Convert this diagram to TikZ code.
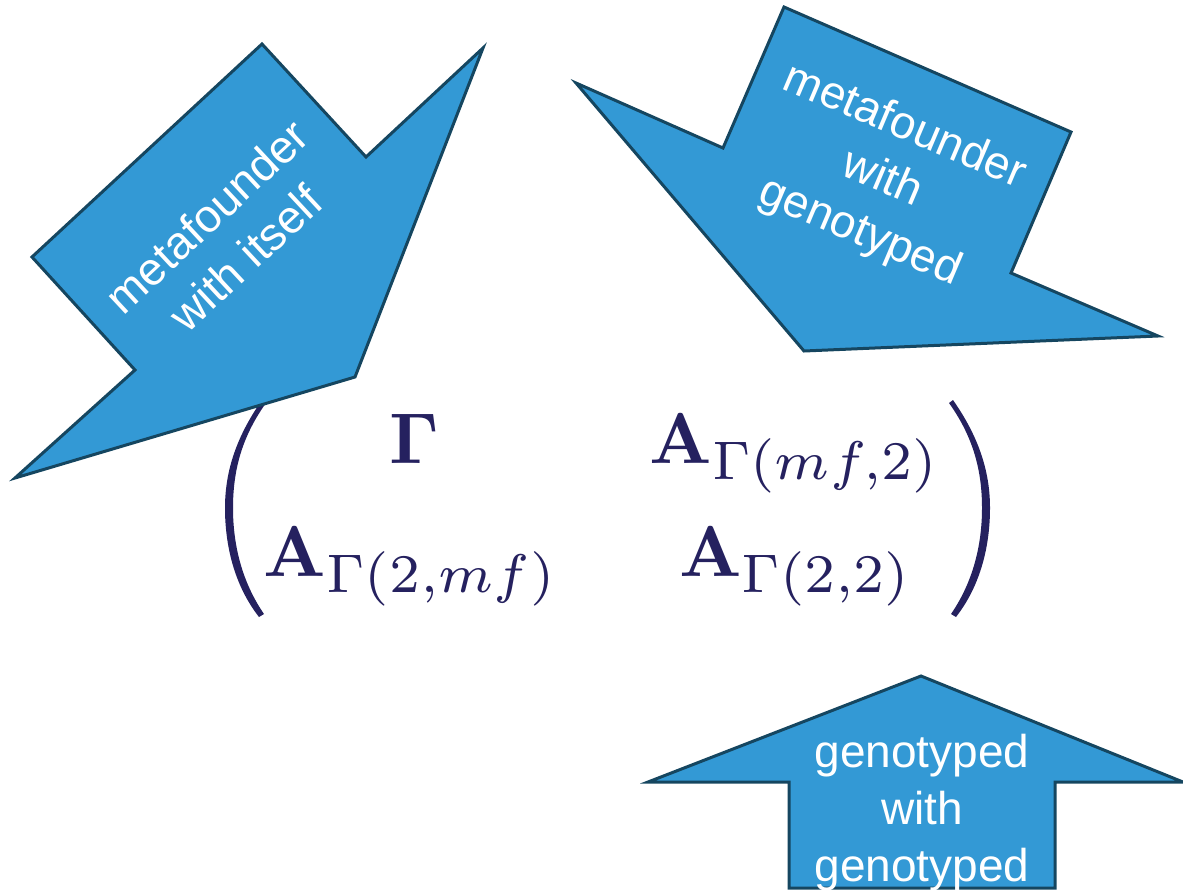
\documentclass[tikz,border=0pt]{standalone}
\usepackage{amsmath}
\usepackage[no-math]{fontspec}
\newfontfamily\arrowfont{Liberation Sans}
\definecolor{arrowfill}{HTML}{3399D5}
\definecolor{arrowline}{HTML}{154660}
\definecolor{matnavy}{HTML}{25215F}
\newcommand{\bigmath}[1]{\scalebox{7.2}{$#1$}}
\newcommand{\bigsub}[1]{\scalebox{1.08}{$\scriptstyle #1$}}
\begin{document}
\begin{tikzpicture}[x=1pt,y=-1pt,
  arrowshape/.style={fill=arrowfill, draw=arrowline, line width=3pt, line join=miter},
  arrowtext/.style={text=white, font=\arrowfont\fontsize{46}{57}\selectfont, align=center, inner sep=0pt},
  mat/.style={text=matnavy, inner sep=0pt, anchor=base},
  parenshape/.style={fill=matnavy}]
\useasboundingbox (0,0) rectangle (1183,892);

% matrix entries
\node[mat] (g11) at (414,463) {\bigmath{\mathbf{\Gamma}}};
\node[mat] (g12) at (795,463) {\bigmath{\mathbf{A}_{\bigsub{\Gamma(mf,2)}}}};
\node[mat] (g21) at (411,576) {\bigmath{\mathbf{A}_{\bigsub{\Gamma(2,mf)}}}};
\node[mat] (g22) at (796,576) {\bigmath{\mathbf{A}_{\bigsub{\Gamma(2,2)}}}};

% parentheses
\fill[parenshape] (262,400) .. controls (234,440) and (225,475) .. (225,508)
  .. controls (225,545) and (234,585) .. (259,617) -- (264,614)
  .. controls (242,582) and (233,545) .. (233,508)
  .. controls (233,472) and (241,438) .. (266,403) -- cycle;
\fill[parenshape] (953,400) .. controls (981,440) and (990,475) .. (990,508)
  .. controls (990,545) and (981,585) .. (956,617) -- (951,614)
  .. controls (973,582) and (982,545) .. (982,508)
  .. controls (982,472) and (974,438) .. (949,403) -- cycle;

% arrow 1: metafounder with itself
\draw[arrowshape] (262,44) -- (366,157) -- (483,48) -- (355,377) -- (15,478) -- (135,370) -- (32,257) -- cycle;
\node[arrowtext, rotate=43] (t1) at (226,237) {metafounder\\with itself};

% arrow 2: metafounder with genotyped
\draw[arrowshape] (784,7) -- (1071,132) -- (1011,273) -- (1158,336) -- (804,351) -- (576,83) -- (723,148) -- cycle;
\node[arrowtext, rotate=-23] (t2) at (882,180) {metafounder\\with\\genotyped};

% arrow 3: genotyped with genotyped
\draw[arrowshape] (921,676) -- (1183,782) -- (1055,782) -- (1055,888) -- (789,888) -- (789,782) -- (648,782) -- cycle;
\node[arrowtext] (t3) at (922,813) {genotyped\\with\\genotyped};
\end{tikzpicture}
\end{document}
